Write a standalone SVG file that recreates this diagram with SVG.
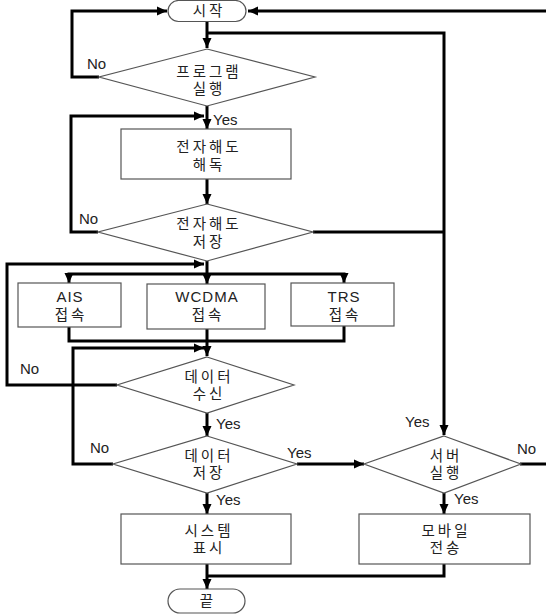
<svg xmlns="http://www.w3.org/2000/svg" width="546" height="615" viewBox="0 0 546 615">
<style>
.shape{fill:#fff;stroke:#555;stroke-width:1.2}
.ko{font-family:"Noto Sans CJK KR","Noto Sans",sans-serif;font-size:14.5px;fill:#222;text-anchor:middle;letter-spacing:3px}
.en{font-family:"Liberation Sans","Noto Sans",sans-serif;font-size:15px;fill:#222;text-anchor:middle;letter-spacing:1px}
.lbl{font-family:"Liberation Sans","Noto Sans",sans-serif;font-size:15px;fill:#222}
.c{fill:none;stroke:#000;stroke-width:3}
</style>
<defs>
<marker id="ah" markerUnits="userSpaceOnUse" markerWidth="10" markerHeight="10" refX="10" refY="5" orient="auto">
<path d="M0,0.5 L10,5 L0,9.5 z" fill="#000"/>
</marker>
</defs>
<rect width="546" height="615" fill="#fff"/>
<g id="connectors">
<path class="c" d="M207,22 V48" marker-end="url(#ah)"/>
<path class="c" d="M207,33 H444 V435" marker-end="url(#ah)"/>
<path class="c" d="M99,77 H72 V11 H167" marker-end="url(#ah)"/>
<path class="c" d="M520,464 H549 V11 H248" marker-end="url(#ah)"/>
<path class="c" d="M207,106 V129" marker-end="url(#ah)"/>
<path class="c" d="M98,232 H71 V116 H204" marker-end="url(#ah)"/>
<path class="c" d="M207,179 V204" marker-end="url(#ah)"/>
<path class="c" d="M313,232 H444"/>
<path class="c" d="M207,261 V284" marker-end="url(#ah)"/>
<path class="c" d="M207,274 H69 V283" marker-end="url(#ah)"/>
<path class="c" d="M207,274 H344 V283" marker-end="url(#ah)"/>
<path class="c" d="M117,385 H7 V264 H204" marker-end="url(#ah)"/>
<path class="c" d="M69,327 V341 H344 V326"/>
<path class="c" d="M207,329 V356" marker-end="url(#ah)"/>
<path class="c" d="M113,464 H73 V348 H204" marker-end="url(#ah)"/>
<path class="c" d="M207,413 V436" marker-end="url(#ah)"/>
<path class="c" d="M297,464 H364" marker-end="url(#ah)"/>
<path class="c" d="M207,493 V514" marker-end="url(#ah)"/>
<path class="c" d="M444,493 V514" marker-end="url(#ah)"/>
<path class="c" d="M207,564 V589" marker-end="url(#ah)"/>
<path class="c" d="M444,564 V576 H207"/>
</g>
<g id="labels">
<text class="lbl" x="87" y="69">No</text>
<text class="lbl" x="213" y="125">Yes</text>
<text class="lbl" x="79" y="224">No</text>
<text class="lbl" x="20" y="374">No</text>
<text class="lbl" x="216" y="429">Yes</text>
<text class="lbl" x="90" y="453">No</text>
<text class="lbl" x="287" y="458">Yes</text>
<text class="lbl" x="405" y="427">Yes</text>
<text class="lbl" x="517" y="454">No</text>
<text class="lbl" x="216" y="505">Yes</text>
<text class="lbl" x="454" y="504">Yes</text>
</g>
<g id="start">
<rect class="shape" x="168" y="0.5" width="78" height="21" rx="10.5"/>
<text class="ko" x="209" y="16">시작</text>
</g>
<g id="program-run">
<polygon class="shape" points="207,49 315,77 207,106 99,77"/>
<text class="ko" x="209" y="77">프로그램</text>
<text class="ko" x="209" y="94">실행</text>
</g>
<g id="chart-decode">
<rect class="shape" x="121" y="129" width="170" height="50"/>
<text class="ko" x="209" y="152">전자해도</text>
<text class="ko" x="209" y="170">해독</text>
</g>
<g id="chart-save">
<polygon class="shape" points="207,204 313,232 207,261 98,232"/>
<text class="ko" x="209" y="229">전자해도</text>
<text class="ko" x="209" y="247">저장</text>
</g>
<g id="ais">
<rect class="shape" x="18" y="283" width="103" height="44"/>
<text class="en" x="70" y="302">AIS</text>
<text class="ko" x="71" y="320">접속</text>
</g>
<g id="wcdma">
<rect class="shape" x="147" y="284" width="118" height="45"/>
<text class="en" x="207" y="302">WCDMA</text>
<text class="ko" x="208" y="320">접속</text>
</g>
<g id="trs">
<rect class="shape" x="291" y="283" width="103" height="43"/>
<text class="en" x="344" y="302">TRS</text>
<text class="ko" x="345" y="320">접속</text>
</g>
<g id="data-receive">
<polygon class="shape" points="207,357 294,385 207,413 117,385"/>
<text class="ko" x="209" y="382">데이터</text>
<text class="ko" x="209" y="399">수신</text>
</g>
<g id="data-save">
<polygon class="shape" points="207,436 297,464 207,493 113,464"/>
<text class="ko" x="209" y="461">데이터</text>
<text class="ko" x="209" y="478">저장</text>
</g>
<g id="server-run">
<polygon class="shape" points="444,436 521,464 444,493 364,464"/>
<text class="ko" x="446" y="461">서버</text>
<text class="ko" x="446" y="478">실행</text>
</g>
<g id="system-display">
<rect class="shape" x="121" y="514" width="170" height="50"/>
<text class="ko" x="209" y="536">시스템</text>
<text class="ko" x="209" y="553">표시</text>
</g>
<g id="mobile-send">
<rect class="shape" x="359" y="514" width="171" height="50"/>
<text class="ko" x="446" y="536">모바일</text>
<text class="ko" x="446" y="553">전송</text>
</g>
<g id="end">
<rect class="shape" x="168" y="589" width="77" height="24" rx="12"/>
<text class="ko" x="208" y="606">끝</text>
</g>
</svg>
